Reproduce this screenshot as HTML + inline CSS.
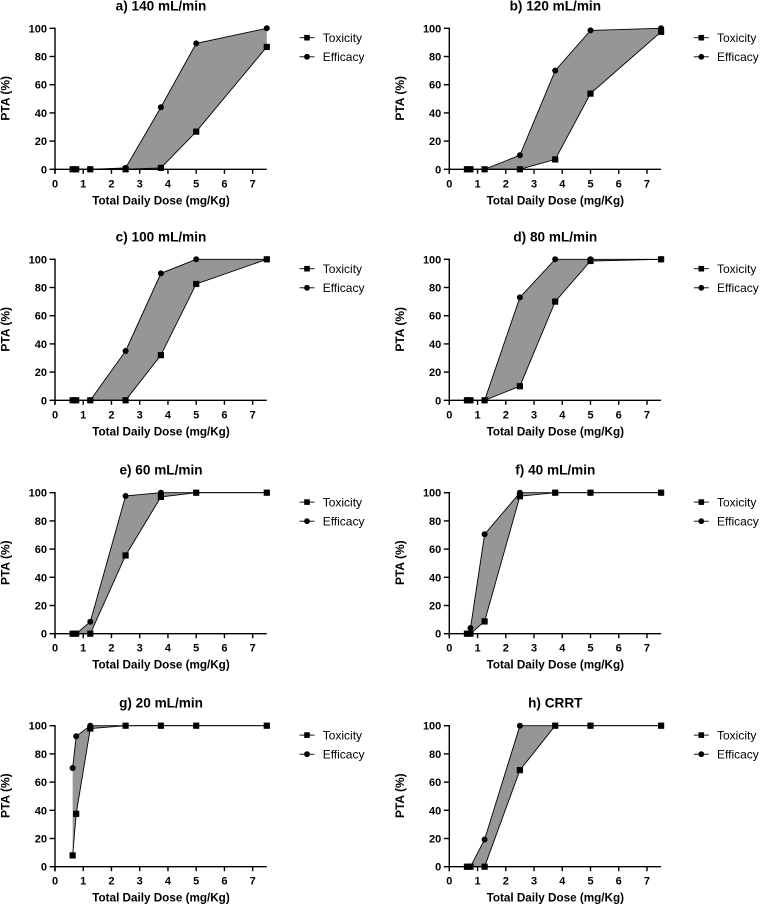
<!DOCTYPE html>
<html lang="en">
<head>
<meta charset="utf-8">
<title>PTA by renal function</title>
<style>
html,body{margin:0;padding:0;background:#fff;}
svg{display:block;font-family:"Liberation Sans",Arial,sans-serif;}
.tick{font-size:11px;font-weight:700;fill:#000;}
.ptitle{font-size:13.6px;font-weight:700;fill:#000;text-anchor:middle;}
.xtitle{font-size:11.7px;font-weight:700;fill:#000;text-anchor:middle;}
.ytitle{font-size:12px;font-weight:700;fill:#000;text-anchor:middle;}
.leg{font-size:12px;fill:#000;}
</style>
</head>
<body>
<svg id="chart" xmlns="http://www.w3.org/2000/svg" width="760" height="905" viewBox="0 0 760 905"></svg>
<script>
const doses = [0.625, 0.75, 1.25, 2.5, 3.75, 5, 7.5];
const xTickLabels = [0, 1, 2, 3, 4, 5, 6, 7];
const yTickLabels = [0, 20, 40, 60, 80, 100];
const panelTitles = ['a) 140 mL/min', 'b) 120 mL/min', 'c) 100 mL/min', 'd) 80 mL/min', 'e) 60 mL/min', 'f) 40 mL/min', 'g) 20 mL/min', 'h) CRRT'];
const toxicityA = [0, 0, 0, 0, 1, 26.7, 86.8];
const efficacyA = [0, 0, 0, 1, 44, 89.3, 100];
const toxicityB = [0, 0, 0, 0, 7, 53.7, 97.5];
const efficacyB = [0, 0, 0, 10, 70, 98.5, 100];
const toxicityC = [0, 0, 0, 0, 32, 82.5, 100];
const efficacyC = [0, 0, 0, 35, 90, 100, 100];
const toxicityD = [0, 0, 0, 10, 70, 98.8, 100];
const efficacyD = [0, 0, 0, 73, 100, 100, 100];
const toxicityE = [0, 0, 0, 55.5, 97, 100, 100];
const efficacyE = [0, 0, 8.5, 97.7, 100, 100, 100];
const toxicityF = [0, 0, 8.7, 97.5, 100, 100, 100];
const efficacyF = [0, 4, 70.5, 100, 100, 100, 100];
const toxicityG = [8, 37.5, 98, 100, 100, 100, 100];
const efficacyG = [70, 92.5, 100, 100, 100, 100, 100];
const toxicityH = [0, 0, 0, 68.5, 100, 100, 100];
const efficacyH = [0, 0, 19.3, 100, 100, 100, 100];
const toxicitySeries = [toxicityA, toxicityB, toxicityC, toxicityD, toxicityE, toxicityF, toxicityG, toxicityH];
const efficacySeries = [efficacyA, efficacyB, efficacyC, efficacyD, efficacyE, efficacyF, efficacyG, efficacyH];
const legendLabels = ['Toxicity', 'Efficacy'];
const xAxisName = 'Total Daily Dose (mg/Kg)';
const yAxisName = 'PTA (%)';

const NS = 'http://www.w3.org/2000/svg';
const root = document.getElementById('chart');

function make(tag, parent, props, content) {
  const el = document.createElementNS(NS, tag);
  for (const k in props) el.setAttribute(k, props[k]);
  if (content !== undefined) el.textContent = content;
  parent.appendChild(el);
  return el;
}
function panelLeft(col) { return 55 + col * 394.3; }
function panelBottom(row) {
  if (row === 0) return 169.3;
  if (row === 1) return 400.3;
  if (row === 2) return 633.7;
  return 866.7;
}
const UNIT_X = 28.24;
const PLOT_H = 141;
const X_MAX = 7.5;
const Y_MAX = 100;

function square(parent, cx, cy, s) {
  return make('rect', parent, { x: cx - s / 2, y: cy - s / 2, width: s, height: s, fill: '#000' });
}
function circle(parent, cx, cy, r) {
  return make('circle', parent, { cx: cx, cy: cy, r: r, fill: '#000' });
}

panelTitles.forEach(function (title, i) {
  const col = i % 2;
  const row = Math.floor(i / 2);
  const left = panelLeft(col);
  const bottom = panelBottom(row);
  const xScale = function (v) { return left + v * UNIT_X; };
  const yScale = function (v) { return bottom - v / Y_MAX * PLOT_H; };
  const tox = toxicitySeries[i];
  const eff = efficacySeries[i];

  const g = make('g', root, {});
  
  

  const titleEl = make('text', g, { x: left + 106, y: bottom - PLOT_H - 18, class: 'ptitle' }, title);
  
  

  // shaded band between the two curves
  const upper = doses.map(function (d, k) { return xScale(d).toFixed(2) + ',' + yScale(eff[k]).toFixed(2); });
  const lower = doses.map(function (d, k) { return xScale(d).toFixed(2) + ',' + yScale(tox[k]).toFixed(2); }).reverse();
  const band = make('polygon', g, { points: upper.concat(lower).join(' '), fill: '#969696', stroke: 'none' });
  
  

  // axes
  const axes = make('g', g, { stroke: '#000', 'stroke-width': 1.4, fill: 'none' });
  
  
  make('line', axes, { x1: left - 0.7, x2: xScale(X_MAX), y1: bottom, y2: bottom });
  make('line', axes, { x1: left, x2: left, y1: yScale(Y_MAX) - 0.7, y2: bottom + 4.5 });

  xTickLabels.forEach(function (t) {
    make('line', axes, { x1: xScale(t), x2: xScale(t), y1: bottom, y2: bottom + 4.5 });
    const lab = make('text', g, { x: xScale(t), y: bottom + 18, class: 'tick', 'text-anchor': 'middle' }, String(t));
    
    
  });
  yTickLabels.forEach(function (t) {
    make('line', axes, { x1: left - 5.5, x2: left, y1: yScale(t), y2: yScale(t) });
    const lab = make('text', g, { x: left - 8, y: yScale(t) + 4, class: 'tick', 'text-anchor': 'end' }, String(t));
    
    
  });

  const xt = make('text', g, { x: left + 106, y: bottom + 35, class: 'xtitle' }, xAxisName);
  
  
  const yMid = bottom - 71;
  const yt = make('text', g, { x: left - 45.5, y: yMid, class: 'ytitle', transform: 'rotate(-90 ' + (left - 45.5) + ' ' + yMid + ')' }, yAxisName);
  
  

  // efficacy series (below toxicity)
  const effGroup = make('g', g, {});
  
  
  make('polyline', effGroup, { points: upper.join(' '), fill: 'none', stroke: '#000', 'stroke-width': 0.9 });
  doses.forEach(function (d, k) {
    const m = circle(effGroup, xScale(d), yScale(eff[k]), 3);
    
    
  });

  // toxicity series
  const toxGroup = make('g', g, {});
  
  
  make('polyline', toxGroup, { points: lower.join(' '), fill: 'none', stroke: '#000', 'stroke-width': 0.9 });
  doses.forEach(function (d, k) {
    const m = square(toxGroup, xScale(d), yScale(tox[k]), 6.2);
    
    
  });

  // legend
  const top = bottom - PLOT_H;
  legendLabels.forEach(function (name, k) {
    const ly = top + 9.4 + k * 19.1;
    const lg = make('g', g, {});
    
    
    make('line', lg, { x1: left + 244.5, x2: left + 259.5, y1: ly, y2: ly, stroke: '#000', 'stroke-width': 0.9 });
    if (k === 0) square(lg, left + 252, ly, 5.6);
    else circle(lg, left + 252, ly, 2.9);
    make('text', lg, { x: left + 267.7, y: ly + 4.3, class: 'leg' }, name);
  });
});
</script>
</body>
</html>
